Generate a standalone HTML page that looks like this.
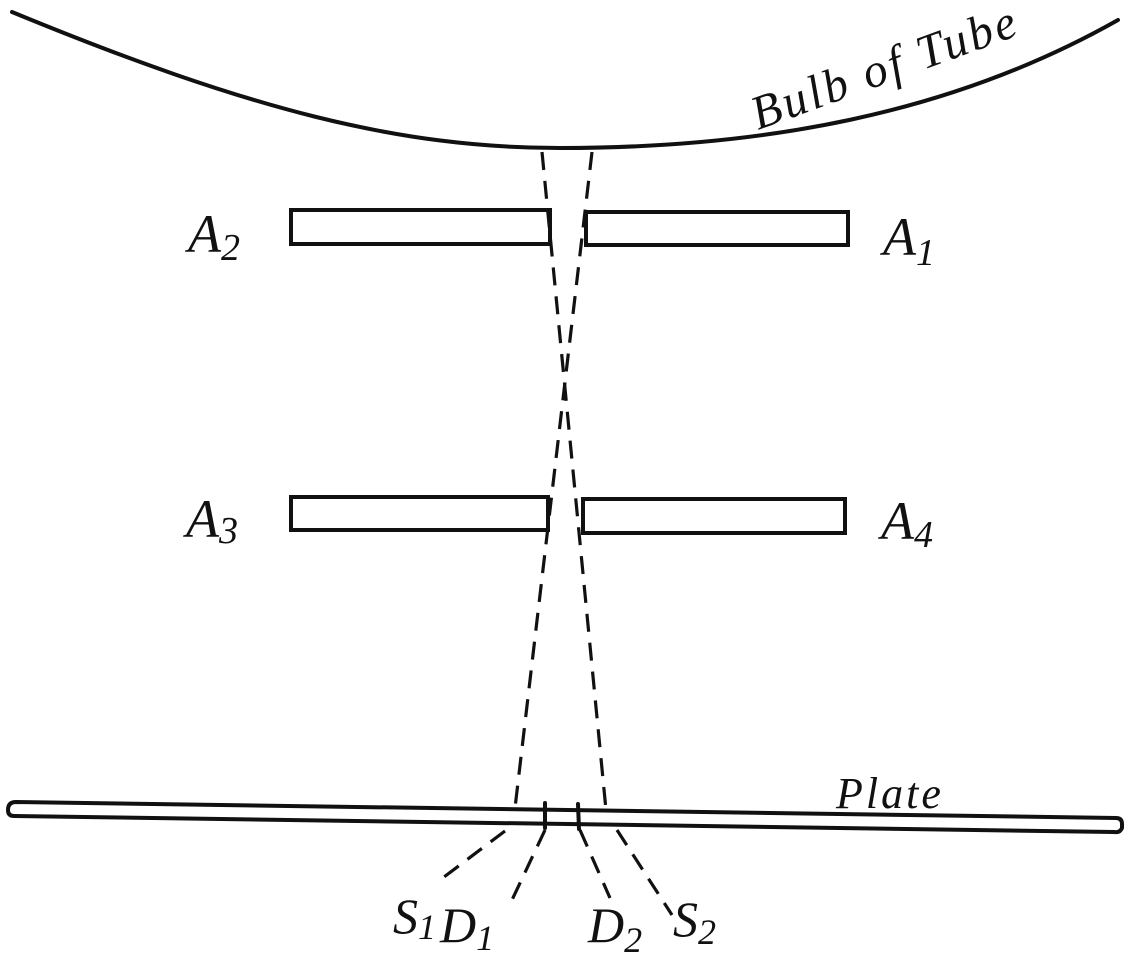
<!DOCTYPE html>
<html><head><meta charset="utf-8"><style>html,body{margin:0;padding:0;background:#fff}svg{display:block}</style></head>
<body>
<svg width="1137" height="971" viewBox="0 0 1137 971" xmlns="http://www.w3.org/2000/svg">
<g fill="none" stroke="#111" stroke-width="4" stroke-linecap="round">
<path d="M12 12 C 250 110, 400 148, 560 148 C 760 148, 950 115, 1118 20"/>
<rect x="291" y="210" width="259" height="34"/>
<rect x="586" y="212" width="262" height="33"/>
<rect x="291" y="497" width="257" height="33"/>
<rect x="583" y="499" width="262" height="34"/>
<path d="M16 802 L1116 818 Q1122 818 1122 824 L1122 828 Q1120 833 1114 832 L14 816 Q8 816 8 810 Q8 802 16 802 Z"/>
<line x1="545" y1="803" x2="545" y2="828"/>
<line x1="578" y1="804" x2="579" y2="829"/>
</g>
<g fill="none" stroke="#111" stroke-width="3.2" stroke-dasharray="18 11">
<line x1="542" y1="152" x2="606" y2="810"/>
<line x1="592" y1="152" x2="515" y2="808"/>
<line x1="505" y1="831" x2="440" y2="880"/>
<line x1="545" y1="830" x2="512" y2="900"/>
<line x1="580" y1="830" x2="610" y2="898"/>
<line x1="617" y1="830" x2="672" y2="915"/>
</g>
<g font-family="Liberation Serif, serif" font-style="italic" fill="#111">
<text x="758" y="130" font-size="48" letter-spacing="3" transform="rotate(-20 758 130)">Bulb of Tube</text>
<text x="188" y="252" font-size="54">A<tspan font-size="38" dy="8">2</tspan></text>
<text x="883" y="255" font-size="54">A<tspan font-size="38" dy="10">1</tspan></text>
<text x="186" y="537" font-size="54">A<tspan font-size="38" dy="6">3</tspan></text>
<text x="881" y="539" font-size="54">A<tspan font-size="38" dy="8">4</tspan></text>
<text x="836" y="808" font-size="44" letter-spacing="3">Plate</text>
<text x="393" y="933" font-size="50">S<tspan font-size="36" dy="6">1</tspan></text>
<text x="440" y="942" font-size="50">D<tspan font-size="36" dy="8">1</tspan></text>
<text x="588" y="942" font-size="50">D<tspan font-size="36" dy="10">2</tspan></text>
<text x="673" y="936" font-size="50">S<tspan font-size="36" dy="8">2</tspan></text>
</g>
</svg>
</body></html>
